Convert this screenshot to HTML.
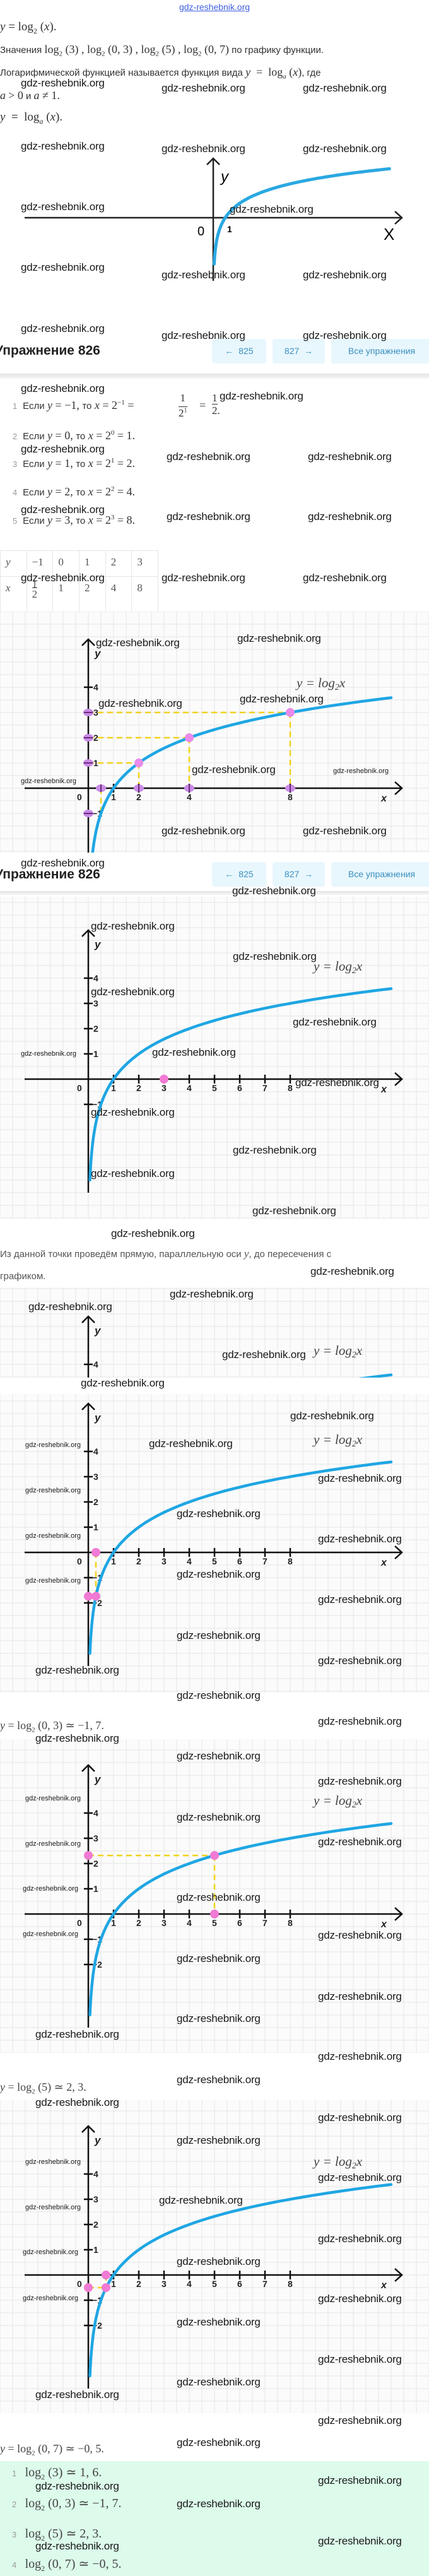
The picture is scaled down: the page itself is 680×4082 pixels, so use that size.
<!DOCTYPE html>
<html><head><meta charset="utf-8">
<style>
body{margin:0;width:680px;height:4082px;position:relative;background:#fff;overflow:hidden;font-family:"Liberation Sans",sans-serif;}
.a{position:absolute;white-space:nowrap;}
.w{position:absolute;white-space:nowrap;font:17px "Liberation Sans",sans-serif;color:#1a1a1a;line-height:20px;letter-spacing:-0.2px;}
.ws{position:absolute;white-space:nowrap;font:11px "Liberation Sans",sans-serif;color:#1a1a1a;line-height:14px;}
.m{font-family:"Liberation Serif",serif;}
.i{font-style:italic;}
.t{font-size:15px;color:#333;line-height:20px;}
.btn{position:absolute;background:#e8f7fd;border-radius:4px;color:#3b8fc0;font-size:14px;text-align:center;line-height:39px;height:39px;}
.hd{position:absolute;left:-8px;font-weight:bold;font-size:21px;color:#222;}
.sep{position:absolute;left:0;width:680px;height:8px;background:linear-gradient(#e4e4e4,#f6f6f6);}
svg{position:absolute;left:0;}
td{border:1px solid #e6e6e6;padding:0 0 0 8px;font-family:"Liberation Serif",serif;font-size:17px;color:#555;vertical-align:top;}
.n{color:#999;font-size:13px;}
</style></head><body>

<div class="a" style="left:0;width:680px;top:3px;text-align:center;font-size:14px;color:#4060e0;text-decoration:underline;">gdz-reshebnik.org</div>
<div class="a m" style="left:0;top:32px;font-size:19px;color:#333;"><span class="i">y</span> = log<sub style="font-size:12px">2</sub> (<span class="i">x</span>).</div>
<div class="a t" style="left:0;top:68px;font-size:15px;">Значения <span class="m" style="font-size:18px">log<sub style="font-size:11px">2</sub> (3) ,  log<sub style="font-size:11px">2</sub> (0, 3) ,  log<sub style="font-size:11px">2</sub> (5) ,  log<sub style="font-size:11px">2</sub> (0, 7)</span> по графику функции.</div>
<div class="a t" style="left:0;top:104px;">Логарифмической функцией называется функция вида <span class="m" style="font-size:18px"><span class="i">y</span> &nbsp;= &nbsp;log<sub style="font-size:11px"><i>a</i></sub> (<i>x</i>)</span>, где</div>
<div class="a t" style="left:0;top:141px;"><span class="m i" style="font-size:18px">a</span> <span class="m" style="font-size:18px">&gt; 0</span> и <span class="m" style="font-size:18px"><i>a</i> ≠ 1.</span></div>
<div class="a m" style="left:0;top:175px;font-size:19px;color:#333;"><i>y</i> &nbsp;= &nbsp;log<sub style="font-size:12px"><i>a</i></sub> (<i>x</i>).</div>

<svg width="680" height="460" style="top:0">
<line x1="39" y1="345" x2="636" y2="345" stroke="#222" stroke-width="2.5"/>
<polyline points="626,335 637,345 626,355" fill="none" stroke="#222" stroke-width="2.5"/>
<line x1="338" y1="445" x2="338" y2="251" stroke="#222" stroke-width="2.5"/>
<polyline points="328,261 338,251 348,261" fill="none" stroke="#222" stroke-width="2.5"/>
<path id="c1" fill="none" stroke="#2aa8e2" stroke-width="5" stroke-linecap="round"/>
<text x="350" y="288" font-size="24" font-style="italic" font-family="Liberation Sans">y</text>
<text x="313" y="373" font-size="20" font-family="Liberation Sans">0</text>
<text x="360" y="368" font-size="14" font-weight="bold" font-family="Liberation Sans">1</text>
<text x="608" y="380" font-size="26" font-family="Liberation Sans">X</text>
</svg>

<div class="hd" style="top:544px;">Упражнение 826</div>
<div class="btn" style="left:336px;top:537px;width:86px;">←&nbsp; 825</div>
<div class="btn" style="left:432px;top:537px;width:83px;">827 &nbsp;→</div>
<div class="btn" style="left:525px;top:537px;width:160px;">Все упражнения</div>
<div class="sep" style="top:592px;"></div>

<div class="a" style="left:20px;top:632px;"><span class="n">1</span>&nbsp; <span class="t">Если</span> <span class="m" style="font-size:18px;color:#333"><i>y</i> = −1, </span><span class="t">то</span> <span class="m" style="font-size:18px;color:#333"><i>x</i> = 2<sup style="font-size:11px">−1</sup> = </span></div>
<div class="a m" style="left:283px;top:621px;font-size:17px;color:#333;text-align:center;line-height:20px;">1<br><span style="border-top:1px solid #333;">2<sup style="font-size:10px">1</sup></span></div>
<div class="a m" style="left:316px;top:632px;font-size:18px;color:#333;">=</div>
<div class="a m" style="left:336px;top:621px;font-size:17px;color:#333;line-height:20px;">1<br><span style="border-top:1px solid #333;">2</span>.</div>
<div class="a" style="left:20px;top:680px;"><span class="n">2</span>&nbsp; <span class="t">Если</span> <span class="m" style="font-size:18px;color:#333"><i>y</i> = 0, </span><span class="t">то</span> <span class="m" style="font-size:18px;color:#333"><i>x</i> = 2<sup style="font-size:11px">0</sup> = 1.</span></div>
<div class="a" style="left:20px;top:724px;"><span class="n">3</span>&nbsp; <span class="t">Если</span> <span class="m" style="font-size:18px;color:#333"><i>y</i> = 1, </span><span class="t">то</span> <span class="m" style="font-size:18px;color:#333"><i>x</i> = 2<sup style="font-size:11px">1</sup> = 2.</span></div>
<div class="a" style="left:20px;top:769px;"><span class="n">4</span>&nbsp; <span class="t">Если</span> <span class="m" style="font-size:18px;color:#333"><i>y</i> = 2, </span><span class="t">то</span> <span class="m" style="font-size:18px;color:#333"><i>x</i> = 2<sup style="font-size:11px">2</sup> = 4.</span></div>
<div class="a" style="left:20px;top:814px;"><span class="n">5</span>&nbsp; <span class="t">Если</span> <span class="m" style="font-size:18px;color:#333"><i>y</i> = 3, </span><span class="t">то</span> <span class="m" style="font-size:18px;color:#333"><i>x</i> = 2<sup style="font-size:11px">3</sup> = 8.</span></div>

<table style="position:absolute;left:0;top:872px;border-collapse:collapse;width:251px;">
<tr style="height:41px"><td style="width:33px;padding-top:8px"><i>y</i></td><td style="width:33px;padding-top:8px">−1</td><td style="width:33px;padding-top:8px">0</td><td style="width:33px;padding-top:8px">1</td><td style="width:33px;padding-top:8px">2</td><td style="width:33px;padding-top:8px">3</td></tr>
<tr style="height:56px"><td style="padding-top:8px"><i>x</i></td><td style="line-height:16px;padding-top:4px">1<br><span style="border-top:1px solid #555">2</span></td><td style="padding-top:8px">1</td><td style="padding-top:8px">2</td><td style="padding-top:8px">4</td><td style="padding-top:8px">8</td></tr>
</table>

<div id="charts"></div>

<div class="hd" style="top:1374px;">Упражнение 826</div>
<div class="btn" style="left:336px;top:1366px;width:86px;">←&nbsp; 825</div>
<div class="btn" style="left:432px;top:1366px;width:83px;">827 &nbsp;→</div>
<div class="btn" style="left:525px;top:1366px;width:160px;">Все упражнения</div>
<div class="sep" style="top:1412px;height:6px"></div>

<div class="a t" style="left:0;top:1977px;color:#555;">Из данной точки проведём прямую, параллельную оси <span class="m i" style="font-size:17px">y</span>, до пересечения с</div>
<div class="a t" style="left:0;top:2013px;color:#555;">графиком.</div>

<div class="a m" style="left:0;top:2724px;font-size:18px;color:#444;"><i>y</i> = log<sub style="font-size:11px">2</sub> (0, 3) ≃ −1, 7.</div>
<div class="a m" style="left:0;top:3297px;font-size:18px;color:#444;"><i>y</i> = log<sub style="font-size:11px">2</sub> (5) ≃ 2, 3.</div>
<div class="a m" style="left:0;top:3870px;font-size:18px;color:#444;"><i>y</i> = log<sub style="font-size:11px">2</sub> (0, 7) ≃ −0, 5.</div>

<div class="a" style="left:0;top:3900px;width:680px;height:182px;background:#dcfbeb;"></div>
<div class="a" style="left:19px;top:3905px;"><span class="n">1</span>&nbsp;&nbsp; <span class="m" style="font-size:20px;color:#444">log<sub style="font-size:12px">2</sub> (3) ≃ 1, 6.</span></div>
<div class="a" style="left:19px;top:3954px;"><span class="n">2</span>&nbsp;&nbsp; <span class="m" style="font-size:20px;color:#444">log<sub style="font-size:12px">2</sub> (0, 3) ≃ −1, 7.</span></div>
<div class="a" style="left:19px;top:4002px;"><span class="n">3</span>&nbsp;&nbsp; <span class="m" style="font-size:20px;color:#444">log<sub style="font-size:12px">2</sub> (5) ≃ 2, 3.</span></div>
<div class="a" style="left:19px;top:4050px;"><span class="n">4</span>&nbsp;&nbsp; <span class="m" style="font-size:20px;color:#444">log<sub style="font-size:12px">2</sub> (0, 7) ≃ −0, 5.</span></div>

<!-- watermarks -->
<div class="w" style="left:33px;top:122px">gdz-reshebnik.org</div>
<div class="w" style="left:256px;top:130px">gdz-reshebnik.org</div>
<div class="w" style="left:480px;top:130px">gdz-reshebnik.org</div>
<div class="w" style="left:33px;top:222px">gdz-reshebnik.org</div>
<div class="w" style="left:256px;top:226px">gdz-reshebnik.org</div>
<div class="w" style="left:480px;top:226px">gdz-reshebnik.org</div>
<div class="w" style="left:33px;top:318px">gdz-reshebnik.org</div>
<div class="w" style="left:364px;top:322px">gdz-reshebnik.org</div>
<div class="w" style="left:33px;top:414px">gdz-reshebnik.org</div>
<div class="w" style="left:256px;top:426px">gdz-reshebnik.org</div>
<div class="w" style="left:480px;top:426px">gdz-reshebnik.org</div>
<div class="w" style="left:33px;top:511px">gdz-reshebnik.org</div>
<div class="w" style="left:256px;top:522px">gdz-reshebnik.org</div>
<div class="w" style="left:480px;top:522px">gdz-reshebnik.org</div>
<div class="w" style="left:33px;top:606px">gdz-reshebnik.org</div>
<div class="w" style="left:348px;top:618px">gdz-reshebnik.org</div>
<div class="w" style="left:33px;top:702px">gdz-reshebnik.org</div>
<div class="w" style="left:264px;top:714px">gdz-reshebnik.org</div>
<div class="w" style="left:488px;top:714px">gdz-reshebnik.org</div>
<div class="w" style="left:33px;top:798px">gdz-reshebnik.org</div>
<div class="w" style="left:264px;top:809px">gdz-reshebnik.org</div>
<div class="w" style="left:488px;top:809px">gdz-reshebnik.org</div>
<div class="w" style="left:33px;top:906px">gdz-reshebnik.org</div>
<div class="w" style="left:256px;top:906px">gdz-reshebnik.org</div>
<div class="w" style="left:480px;top:906px">gdz-reshebnik.org</div>
<div class="w" style="left:152px;top:1009px">gdz-reshebnik.org</div>
<div class="w" style="left:376px;top:1002px">gdz-reshebnik.org</div>
<div class="w" style="left:156px;top:1105px">gdz-reshebnik.org</div>
<div class="w" style="left:380px;top:1098px">gdz-reshebnik.org</div>
<div class="ws" style="left:33px;top:1231px">gdz-reshebnik.org</div>
<div class="w" style="left:304px;top:1210px">gdz-reshebnik.org</div>
<div class="ws" style="left:528px;top:1215px">gdz-reshebnik.org</div>
<div class="w" style="left:256px;top:1307px">gdz-reshebnik.org</div>
<div class="w" style="left:480px;top:1307px">gdz-reshebnik.org</div>
<div class="w" style="left:33px;top:1358px">gdz-reshebnik.org</div>
<div class="w" style="left:368px;top:1402px">gdz-reshebnik.org</div>
<div class="w" style="left:144px;top:1458px">gdz-reshebnik.org</div>
<div class="w" style="left:369px;top:1506px">gdz-reshebnik.org</div>
<div class="w" style="left:144px;top:1562px">gdz-reshebnik.org</div>
<div class="w" style="left:464px;top:1610px">gdz-reshebnik.org</div>
<div class="ws" style="left:33px;top:1663px">gdz-reshebnik.org</div>
<div class="w" style="left:241px;top:1658px">gdz-reshebnik.org</div>
<div class="w" style="left:468px;top:1706px">gdz-reshebnik.org</div>
<div class="w" style="left:144px;top:1753px">gdz-reshebnik.org</div>
<div class="w" style="left:369px;top:1813px">gdz-reshebnik.org</div>
<div class="w" style="left:144px;top:1850px">gdz-reshebnik.org</div>
<div class="w" style="left:400px;top:1909px">gdz-reshebnik.org</div>
<div class="w" style="left:176px;top:1945px">gdz-reshebnik.org</div>
<div class="w" style="left:492px;top:2005px">gdz-reshebnik.org</div>
<div class="w" style="left:269px;top:2041px">gdz-reshebnik.org</div>
<div class="w" style="left:45px;top:2061px">gdz-reshebnik.org</div>
<div class="w" style="left:352px;top:2137px">gdz-reshebnik.org</div>
<div class="w" style="left:128px;top:2182px">gdz-reshebnik.org</div>
<div class="w" style="left:460px;top:2234px">gdz-reshebnik.org</div>
<div class="ws" style="left:40px;top:2283px">gdz-reshebnik.org</div>
<div class="w" style="left:236px;top:2278px">gdz-reshebnik.org</div>
<div class="w" style="left:504px;top:2333px">gdz-reshebnik.org</div>
<div class="ws" style="left:40px;top:2355px">gdz-reshebnik.org</div>
<div class="w" style="left:280px;top:2389px">gdz-reshebnik.org</div>
<div class="ws" style="left:40px;top:2427px">gdz-reshebnik.org</div>
<div class="w" style="left:504px;top:2429px">gdz-reshebnik.org</div>
<div class="w" style="left:280px;top:2485px">gdz-reshebnik.org</div>
<div class="ws" style="left:40px;top:2498px">gdz-reshebnik.org</div>
<div class="w" style="left:504px;top:2525px">gdz-reshebnik.org</div>
<div class="w" style="left:280px;top:2582px">gdz-reshebnik.org</div>
<div class="w" style="left:504px;top:2622px">gdz-reshebnik.org</div>
<div class="w" style="left:56px;top:2637px">gdz-reshebnik.org</div>
<div class="w" style="left:280px;top:2677px">gdz-reshebnik.org</div>
<div class="w" style="left:504px;top:2718px">gdz-reshebnik.org</div>
<div class="w" style="left:56px;top:2745px">gdz-reshebnik.org</div>
<div class="w" style="left:280px;top:2773px">gdz-reshebnik.org</div>
<div class="w" style="left:504px;top:2813px">gdz-reshebnik.org</div>
<div class="ws" style="left:40px;top:2843px">gdz-reshebnik.org</div>
<div class="w" style="left:280px;top:2870px">gdz-reshebnik.org</div>
<div class="w" style="left:504px;top:2909px">gdz-reshebnik.org</div>
<div class="ws" style="left:40px;top:2915px">gdz-reshebnik.org</div>
<div class="ws" style="left:36px;top:2986px">gdz-reshebnik.org</div>
<div class="w" style="left:280px;top:2997px">gdz-reshebnik.org</div>
<div class="ws" style="left:36px;top:3058px">gdz-reshebnik.org</div>
<div class="w" style="left:504px;top:3057px">gdz-reshebnik.org</div>
<div class="w" style="left:280px;top:3094px">gdz-reshebnik.org</div>
<div class="w" style="left:504px;top:3154px">gdz-reshebnik.org</div>
<div class="w" style="left:280px;top:3189px">gdz-reshebnik.org</div>
<div class="w" style="left:56px;top:3214px">gdz-reshebnik.org</div>
<div class="w" style="left:504px;top:3249px">gdz-reshebnik.org</div>
<div class="w" style="left:280px;top:3286px">gdz-reshebnik.org</div>
<div class="w" style="left:56px;top:3322px">gdz-reshebnik.org</div>
<div class="w" style="left:504px;top:3346px">gdz-reshebnik.org</div>
<div class="w" style="left:280px;top:3382px">gdz-reshebnik.org</div>
<div class="ws" style="left:40px;top:3419px">gdz-reshebnik.org</div>
<div class="w" style="left:504px;top:3441px">gdz-reshebnik.org</div>
<div class="w" style="left:252px;top:3477px">gdz-reshebnik.org</div>
<div class="ws" style="left:40px;top:3491px">gdz-reshebnik.org</div>
<div class="w" style="left:504px;top:3538px">gdz-reshebnik.org</div>
<div class="ws" style="left:36px;top:3562px">gdz-reshebnik.org</div>
<div class="w" style="left:280px;top:3574px">gdz-reshebnik.org</div>
<div class="ws" style="left:36px;top:3635px">gdz-reshebnik.org</div>
<div class="w" style="left:504px;top:3633px">gdz-reshebnik.org</div>
<div class="w" style="left:280px;top:3670px">gdz-reshebnik.org</div>
<div class="w" style="left:504px;top:3729px">gdz-reshebnik.org</div>
<div class="w" style="left:280px;top:3765px">gdz-reshebnik.org</div>
<div class="w" style="left:56px;top:3785px">gdz-reshebnik.org</div>
<div class="w" style="left:504px;top:3826px">gdz-reshebnik.org</div>
<div class="w" style="left:280px;top:3861px">gdz-reshebnik.org</div>
<div class="w" style="left:504px;top:3921px">gdz-reshebnik.org</div>
<div class="w" style="left:56px;top:3930px">gdz-reshebnik.org</div>
<div class="w" style="left:280px;top:3958px">gdz-reshebnik.org</div>
<div class="w" style="left:504px;top:4017px">gdz-reshebnik.org</div>
<div class="w" style="left:56px;top:4025px">gdz-reshebnik.org</div>

<script>
(function(){
var NS="http://www.w3.org/2000/svg";
function log2(x){return Math.log(x)/Math.LN2;}
// top chart curve
var d="";for(var i=0;i<=120;i++){var u=0.079*Math.pow(14.7/0.079,i/120);var px=338+19*u,py=345-20*log2(u);d+=(i?"L":"M")+px.toFixed(1)+","+py.toFixed(1);}
document.getElementById("c1").setAttribute("d",d);

var host=document.getElementById("charts");
function chart(top,bot,xa,o){
  var h=bot-top,X=xa-top,s="";
  s+='<rect width="680" height="'+h+'" fill="#fbfbfb"/>';
  for(var x=0;x<=680;x+=20)s+='<line x1="'+x+'" y1="0" x2="'+x+'" y2="'+h+'" stroke="#e6e6e6" stroke-width="1"/>';
  var y0=X%20;for(var y=y0;y<=h;y+=20)s+='<line x1="0" y1="'+y+'" x2="680" y2="'+y+'" stroke="#e6e6e6" stroke-width="1"/>';
  function P(u,v){return [140+40*u,X-40*v];}
  // dashed
  (o.dash||[]).forEach(function(l){var a=P(l[0],l[1]),b=P(l[2],l[3]);s+='<line x1="'+a[0]+'" y1="'+a[1]+'" x2="'+b[0]+'" y2="'+b[1]+'" stroke="#f2d21b" stroke-width="2.5" stroke-dasharray="9,6"/>';});
  // axes
  s+='<line x1="39" y1="'+X+'" x2="636" y2="'+X+'" stroke="#111" stroke-width="2.5"/>';
  s+='<polyline points="626,'+(X-10)+' 637,'+X+' 626,'+(X+10)+'" fill="none" stroke="#111" stroke-width="2.5"/>';
  var at=X-236;
  s+='<line x1="140" y1="'+(X+180)+'" x2="140" y2="'+at+'" stroke="#111" stroke-width="2.5"/>';
  s+='<polyline points="130,'+(at+10)+' 140,'+at+' 150,'+(at+10)+'" fill="none" stroke="#111" stroke-width="2.5"/>';
  var F='font-family="Liberation Sans" font-weight="bold" fill="#222"';
  s+='<text x="150" y="'+(at+28)+'" font-size="17" font-style="italic" '+F+'>y</text>';
  s+='<text x="122" y="'+(X+19)+'" font-size="14" '+F+'>0</text>';
  s+='<text x="604" y="'+(X+21)+'" font-size="16" font-style="italic" '+F+'>x</text>';
  o.xt.forEach(function(t){var p=140+40*t;s+='<line x1="'+p+'" y1="'+(X-7)+'" x2="'+p+'" y2="'+(X+7)+'" stroke="#111" stroke-width="2.5"/><text x="'+(p-4)+'" y="'+(X+19)+'" font-size="14" '+F+'>'+t+'</text>';});
  o.yt.forEach(function(t){var p=X-40*t;s+='<line x1="133" y1="'+p+'" x2="147" y2="'+p+'" stroke="#111" stroke-width="2.5"/><text x="'+(t<0?146:148)+'" y="'+(p+5)+'" font-size="14" '+F+'>'+(t<0?'−'+(-t):t)+'</text>';});
  // curve
  var d="";for(var i=0;i<=160;i++){var u=0.0625*Math.pow(12/0.0625,i/160);var q=P(u,log2(u));d+=(i?"L":"M")+q[0].toFixed(1)+","+q[1].toFixed(1);}
  s+='<path d="'+d+'" fill="none" stroke="#1fa6e3" stroke-width="4.5" stroke-linecap="round"/>';
  (o.mk||[]).forEach(function(m){var q=P(m[0],m[1]);s+='<ellipse cx="'+q[0]+'" cy="'+q[1]+'" rx="8" ry="6" fill="#c98be6"/><line x1="'+q[0]+'" y1="'+(q[1]-6)+'" x2="'+q[0]+'" y2="'+(q[1]+6)+'" stroke="#6a2a7a" stroke-width="2"/>';});
  (o.mky||[]).forEach(function(m){var q=P(0,m);s+='<ellipse cx="140" cy="'+q[1]+'" rx="8" ry="6" fill="#c98be6"/><line x1="133" y1="'+q[1]+'" x2="147" y2="'+q[1]+'" stroke="#6a2a7a" stroke-width="2"/>';});
  (o.dots||[]).forEach(function(m){var q=P(m[0],m[1]);s+='<circle cx="'+q[0]+'" cy="'+q[1]+'" r="7" fill="'+(o.dc||"#f07ad4")+'"/>';});
  s+='<text x="'+o.lx+'" y="'+(X+o.ly)+'" font-size="21" font-style="italic" font-family="Liberation Serif" fill="#444">y = log<tspan font-size="14" dy="4">2</tspan><tspan dy="-4">x</tspan></text>';
  var svg=document.createElementNS(NS,"svg");svg.setAttribute("width","680");svg.setAttribute("height",h);svg.style.top=top+"px";svg.innerHTML=s;host.appendChild(svg);
}
chart(969,1351,1249,{xt:[1,2,4,8],yt:[-1,1,2,3,4],lx:470,ly:-160,
 dash:[[0,1,2,1],[2,1,2,0],[0,2,4,2],[4,2,4,0],[0,3,8,3],[8,3,8,0],[0.5,0,0.5,-1]],
 mk:[[0.5,0],[2,0],[4,0],[8,0]],mky:[-1,1,2,3],dots:[[2,1],[4,2],[8,3]],dc:"#e98bea"});
chart(1421,1931,1710,{xt:[1,2,3,4,5,6,7,8],yt:[-1,1,2,3,4],lx:497,ly:-172,dots:[[3,0]]});
chart(2040,2183,2322,{xt:[1,2,3,4,5,6,7,8],yt:[-2,-1,1,2,3,4],lx:497,ly:-175});
chart(2209,2682,2460,{xt:[1,2,3,4,5,6,7,8],yt:[-2,-1,1,2,3,4],lx:497,ly:-172,dash:[[0.3,0,0.3,-1.74],[0,-1.74,0.3,-1.74]],dots:[[0.3,0],[0.3,-1.74],[0,-1.74]]});
chart(2756,3253,3033,{xt:[1,2,3,4,5,6,7,8],yt:[-2,-1,1,2,3,4],lx:497,ly:-173,dash:[[5,2.32,5,0],[0,2.32,5,2.32]],dots:[[5,0],[5,2.32],[0,2.32]]});
chart(3328,3824,3605,{xt:[1,2,3,4,5,6,7,8],yt:[-2,-1,1,2,3,4],lx:497,ly:-173,dash:[[0.7,0,0.7,-0.5],[0,-0.5,0.7,-0.5]],dots:[[0.7,0],[0.7,-0.5],[0,-0.5]]});
})();
</script>
</body></html>
